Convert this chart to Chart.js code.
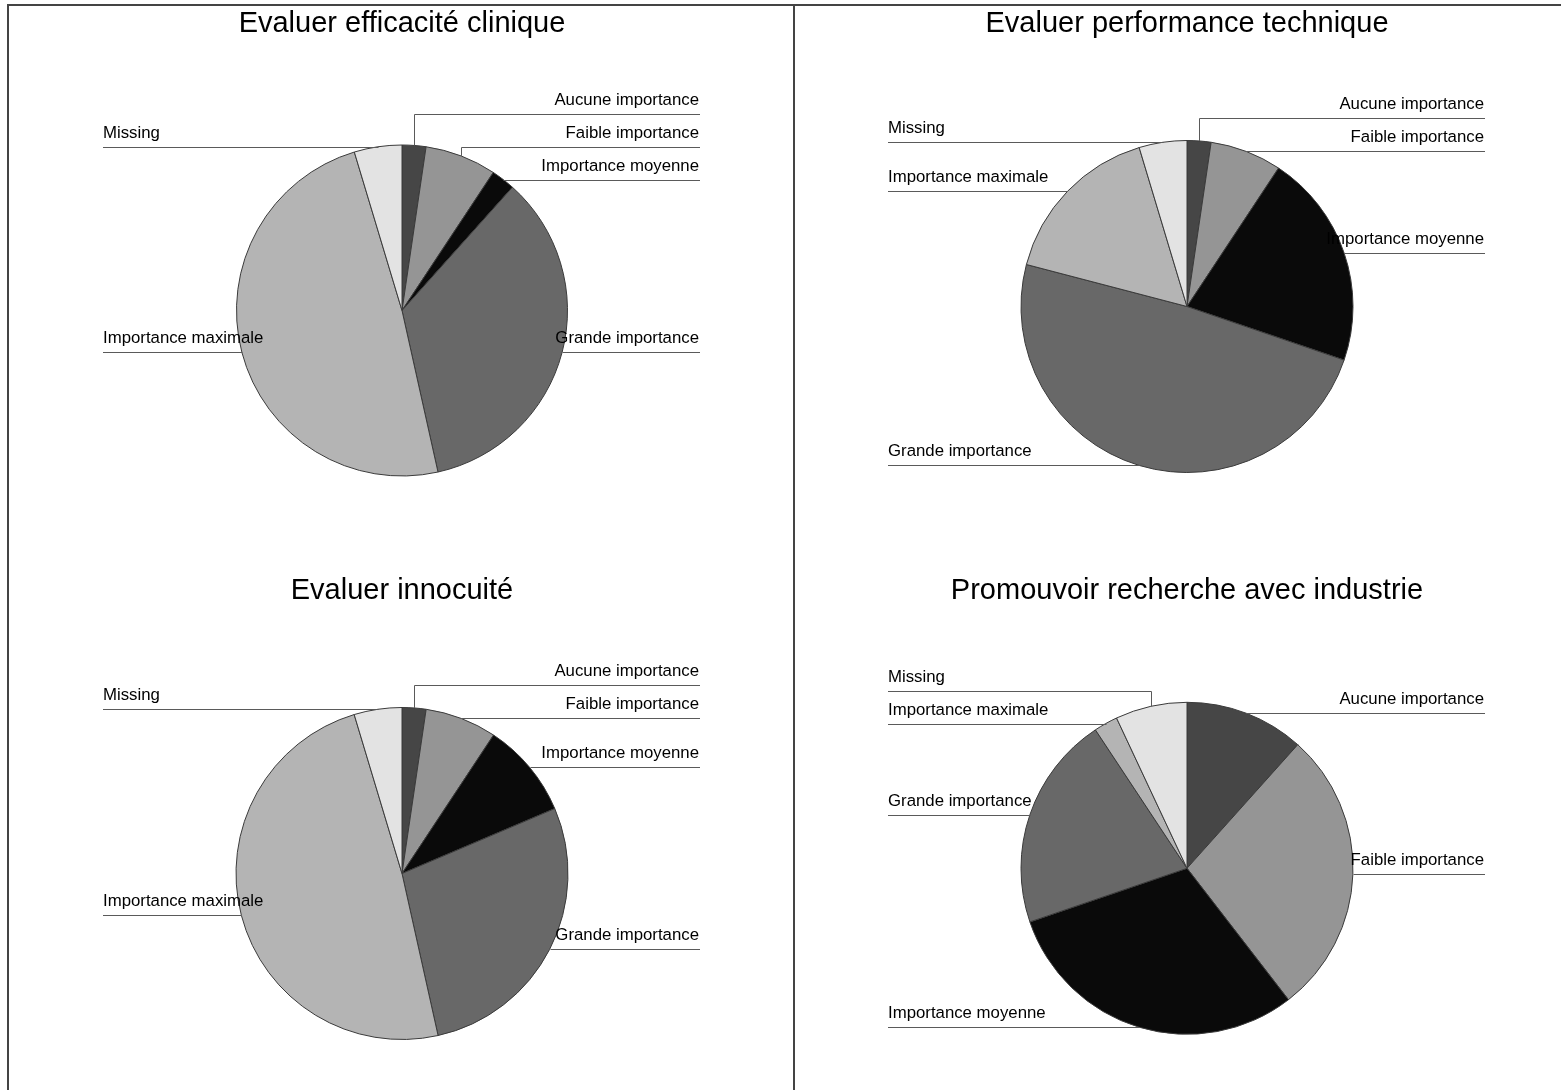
<!DOCTYPE html>
<html>
<head>
<meta charset="utf-8">
<script src="https://cdn.jsdelivr.net/npm/chart.js@4/dist/chart.umd.min.js"></script>
<style>
  html, body { margin: 0; padding: 0; background: #fff; }
  body { width: 1561px; height: 1090px; position: relative; overflow: hidden; }
  canvas { position: absolute; }
  .frame { position: absolute; left: 7px; top: 4px; right: 0; bottom: 0;
           border-left: 2px solid #444; border-top: 2px solid #444; }
  .divider { position: absolute; left: 793px; top: 4px; width: 2px; bottom: 0; background: #444; }
</style>
</head>
<body>
<div class="frame"></div>
<div class="divider"></div>

<script>
// answer categories, clockwise from 12 o'clock
var categories = ['Aucune importance', 'Faible importance', 'Importance moyenne',
                  'Grande importance', 'Importance maximale', 'Missing'];

// respondent counts per question (n = 43)
var efficaciteClinique   = [1, 3, 1, 15, 21, 2];
var performanceTechnique = [1, 3, 9, 21, 7, 2];
var innocuite            = [1, 3, 4, 12, 21, 2];
var rechercheIndustrie   = [5, 12, 13, 9, 1, 3];

var titles = ['Evaluer efficacité clinique', 'Evaluer performance technique',
              'Evaluer innocuité', 'Promouvoir recherche avec industrie'];

var sliceColors = ['#464646', '#959595', '#0a0a0a', '#686868', '#b4b4b4', '#e3e3e3'];

// where each pie sits on the page
var panels = [
  { data: efficaciteClinique,   title: titles[0], cx: 401.7, cy: 310.5, r: 165.5, top: 0,   h: 560, titleMid: 24 },
  { data: performanceTechnique, title: titles[1], cx: 1186.7, cy: 306.5, r: 166,  top: 0,   h: 560, titleMid: 24 },
  { data: innocuite,            title: titles[2], cx: 401.5, cy: 873.5, r: 166,   top: 560, h: 530, titleMid: 591 },
  { data: rechercheIndustrie,   title: titles[3], cx: 1187,  cy: 868.3, r: 166,   top: 560, h: 530, titleMid: 591 }
];

var FONT = "'Liberation Sans', Arial, sans-serif";
var CANVAS_W = 740;
var LABEL_LEFT = 299;
var LABEL_RIGHT = 298;
var LABEL_GAP = 33;

// labels on both sides, each with an underline and a leader to the slice edge
var sliceLabels = {
  id: 'sliceLabels',
  afterDatasetsDraw: function (chart) {
    var ctx = chart.ctx;
    var arcs = chart.getDatasetMeta(0).data;
    var left = [], right = [];
    arcs.forEach(function (arc, i) {
      var mid = (arc.startAngle + arc.endAngle) / 2;
      var px = arc.x + Math.cos(mid) * arc.outerRadius;
      var py = arc.y + Math.sin(mid) * arc.outerRadius;
      var item = { text: chart.data.labels[i], px: px, py: py, y: py };
      (px >= arc.x ? right : left).push(item);
    });
    var cx = arcs[0].x, cy = arcs[0].y;

    function spread(list) {
      var upper = list.filter(function (d) { return d.py < cy; }).sort(function (a, b) { return b.py - a.py; });
      var lower = list.filter(function (d) { return d.py >= cy; }).sort(function (a, b) { return a.py - b.py; });
      for (var i = 1; i < upper.length; i++) upper[i].y = Math.min(upper[i].py, upper[i - 1].y - LABEL_GAP);
      for (var j = 1; j < lower.length; j++) lower[j].y = Math.max(lower[j].py, lower[j - 1].y + LABEL_GAP);
    }
    spread(left);
    spread(right);

    ctx.save();
    ctx.font = '16.8px ' + FONT;
    ctx.lineWidth = 1;
    ctx.strokeStyle = '#5a5a5a';
    ctx.fillStyle = '#000';
    ctx.textBaseline = 'alphabetic';

    function drawOne(d, side) {
      var ly = Math.round(d.y) + 0.5;
      var edge = side === 'left' ? cx - LABEL_LEFT : cx + LABEL_RIGHT;
      var vx = Math.round(d.px) + 0.5;
      ctx.beginPath();
      ctx.moveTo(edge, ly);
      ctx.lineTo(vx, ly);
      if (Math.abs(d.y - d.py) > 1) {
        ctx.lineTo(vx, d.py);
      }
      ctx.stroke();
      ctx.textAlign = side;
      ctx.fillText(d.text, side === 'left' ? edge : edge - 1, ly - 9.5);
    }
    left.forEach(function (d) { drawOne(d, 'left'); });
    right.forEach(function (d) { drawOne(d, 'right'); });
    ctx.restore();
  }
};

panels.forEach(function (p) {
  var canvas = document.createElement('canvas');
  var canvasLeft = p.cx - CANVAS_W / 2;
  canvas.width = CANVAS_W;
  canvas.height = p.h;
  canvas.style.left = canvasLeft + 'px';
  canvas.style.top = p.top + 'px';
  canvas.style.width = CANVAS_W + 'px';
  canvas.style.height = p.h + 'px';
  document.body.appendChild(canvas);

  // the chart area spans the canvas width; its height (2r + 1) sets the pie radius
  var titleSize = 29;
  var lineH = titleSize * 1.2;
  var padTop = p.titleMid - p.top - lineH / 2;
  var areaTop = p.cy - p.r - 0.5 - p.top;
  var padBottom = areaTop - padTop - lineH;
  var bottom = p.h - (areaTop + 2 * p.r + 1);

  new Chart(canvas.getContext('2d'), {
    type: 'pie',
    data: {
      labels: categories,
      datasets: [{
        data: p.data,
        backgroundColor: sliceColors,
        borderColor: '#3a3a3a',
        borderWidth: 1
      }]
    },
    options: {
      responsive: false,
      animation: false,
      layout: { padding: { left: 0, right: 0, top: 0, bottom: bottom } },
      plugins: {
        legend: { display: false },
        tooltip: { enabled: false },
        title: {
          display: true,
          text: p.title,
          color: '#000',
          font: { family: FONT, size: titleSize, weight: 'normal' },
          padding: { top: padTop, bottom: padBottom }
        }
      }
    },
    plugins: [sliceLabels]
  });
});
</script>
</body>
</html>
